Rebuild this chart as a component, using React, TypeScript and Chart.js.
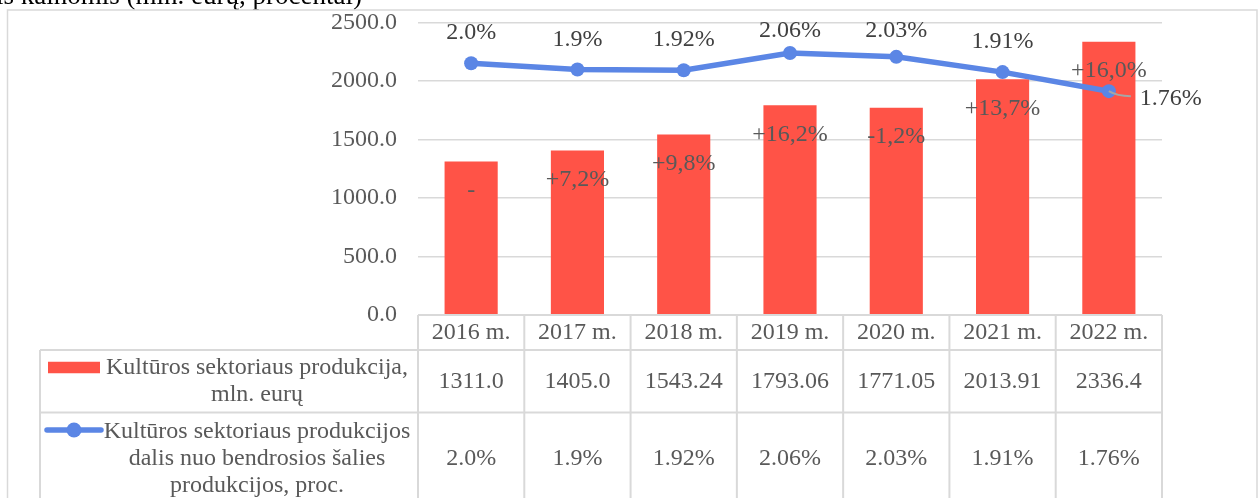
import React, { useEffect, useRef } from "react";
import { Chart, registerables } from "chart.js";

Chart.register(...registerables);

// ---- data ----
const categories = ["2016 m.", "2017 m.", "2018 m.", "2019 m.", "2020 m.", "2021 m.", "2022 m."];
const productionValues = [1311.0, 1405.0, 1543.24, 1793.06, 1771.05, 2013.91, 2336.4];
const productionTableLabels = ["1311.0", "1405.0", "1543.24", "1793.06", "1771.05", "2013.91", "2336.4"];
const growthLabels = ["-", "+7,2%", "+9,8%", "+16,2%", "-1,2%", "+13,7%", "+16,0%"];
const shareValues = [1.98, 1.93, 1.925, 2.06, 2.03, 1.91, 1.76];
const shareLabels = ["2.0%", "1.9%", "1.92%", "2.06%", "2.03%", "1.91%", "1.76%"];
const yAxisMin = 0;
const yAxisMax = 2500;
const yAxisStep = 500;
const shareAxisMax = 2.3;
const productionName = ["Kultūros sektoriaus produkcija,", "mln. eurų"];
const shareName = ["Kultūros sektoriaus produkcijos", "dalis nuo bendrosios šalies", "produkcijos, proc."];
const titleText = "palyginamosiomis kainomis (mln. eurų, procentai)";

// ---- styles ----
const FONT = "'Liberation Serif', 'Times New Roman', serif";
const FS = 24;
const BAR_COLOR = "#FF5347";
const LINE_COLOR = "#5B86E5";
const GRID = "#D9D9D9";
const TEXT = "#595959";
const DARK = "#404040";

const W = 1259;
const H = 498;

const decorPlugin = {
  id: "decor",
  beforeDraw(chart: any) {
    const ctx = chart.ctx;
    ctx.save();
    ctx.fillStyle = "#ffffff";
    ctx.fillRect(0, 0, chart.width, chart.height);
    ctx.fillStyle = "#000000";
    ctx.font = `27px ${FONT}`;
    ctx.textAlign = "right";
    ctx.textBaseline = "alphabetic";
    ctx.fillText(titleText, 362, 4);
    ctx.strokeStyle = GRID;
    ctx.lineWidth = 1.5;
    ctx.strokeRect(7.5, 10, 1249.5, 600);
    ctx.restore();
  },
  afterDatasetsDraw(chart: any) {
    const ctx = chart.ctx;
    const area = chart.chartArea;
    ctx.save();
    ctx.font = `${FS}px ${FONT}`;
    ctx.textBaseline = "middle";
    // bar labels
    const barMeta = chart.getDatasetMeta(1);
    ctx.fillStyle = TEXT;
    ctx.textAlign = "center";
    barMeta.data.forEach((el: any, i: number) => {
      ctx.fillText(growthLabels[i], el.x, el.y + 29);
    });
    // line labels
    const lineMeta = chart.getDatasetMeta(0);
    ctx.fillStyle = DARK;
    const n = lineMeta.data.length;
    lineMeta.data.forEach((el: any, i: number) => {
      if (i === n - 1) {
        ctx.strokeStyle = "#A6A6A6";
        ctx.lineWidth = 2;
        ctx.beginPath();
        ctx.moveTo(el.x, el.y);
        ctx.quadraticCurveTo(el.x + 8, el.y + 5, el.x + 22, el.y + 5);
        ctx.stroke();
        ctx.textAlign = "left";
        ctx.fillText(shareLabels[i], el.x + 31, el.y + 8);
      } else {
        ctx.textAlign = "center";
        const y = Math.max(el.y - 30, area.top + 8);
        ctx.fillText(shareLabels[i], el.x, y);
      }
    });
    ctx.restore();
  },
  afterDraw(chart: any) {
    const ctx = chart.ctx;
    const area = chart.chartArea;
    const xs = chart.scales.x;
    const n = categories.length;
    const colW = (area.right - area.left) / n;
    const top = area.bottom;
    const r1 = top + 35;
    const r2 = r1 + 62.5;
    const bottom = chart.height + 30;
    const tableLeft = 40;
    ctx.save();
    ctx.strokeStyle = GRID;
    ctx.lineWidth = 2;
    const line = (x1: number, y1: number, x2: number, y2: number) => {
      ctx.beginPath();
      ctx.moveTo(x1, y1);
      ctx.lineTo(x2, y2);
      ctx.stroke();
    };
    line(area.left, top, area.right, top);
    line(tableLeft, r1, area.right, r1);
    line(tableLeft, r2, area.right, r2);
    for (let i = 0; i <= n; i++) {
      const x = area.left + i * colW;
      line(x, top, x, bottom);
    }
    line(tableLeft, r1, tableLeft, bottom);

    ctx.font = `${FS}px ${FONT}`;
    ctx.fillStyle = TEXT;
    ctx.textAlign = "center";
    ctx.textBaseline = "middle";
    const row2c = (r1 + r2) / 2;
    const row3c = r2 + 46.5;
    for (let i = 0; i < n; i++) {
      const x = xs.getPixelForValue(i);
      ctx.fillText(categories[i], x, (top + r1) / 2);
      ctx.fillText(productionTableLabels[i], x, row2c);
      ctx.fillText(shareLabels[i], x, row3c);
    }
    // legend cells
    const lh = 27;
    const textX = 257;
    productionName.forEach((t, k) => {
      ctx.fillText(t, textX, row2c - (lh * (productionName.length - 1)) / 2 + k * lh);
    });
    shareName.forEach((t, k) => {
      ctx.fillText(t, textX, row3c - (lh * (shareName.length - 1)) / 2 + k * lh);
    });
    // keys
    const k1y = row2c - (lh * (productionName.length - 1)) / 2;
    ctx.fillStyle = BAR_COLOR;
    ctx.fillRect(48, k1y - 6, 52, 11.5);
    const k2y = row3c - (lh * (shareName.length - 1)) / 2 - 2;
    ctx.strokeStyle = LINE_COLOR;
    ctx.lineWidth = 5.5;
    ctx.lineCap = "round";
    line(47, k2y, 101, k2y);
    ctx.fillStyle = LINE_COLOR;
    ctx.beginPath();
    ctx.arc(74, k2y, 7.5, 0, Math.PI * 2);
    ctx.fill();
    ctx.restore();
  },
};

export default function App() {
  const ref = useRef<HTMLCanvasElement | null>(null);
  useEffect(() => {
    document.body.style.margin = "0";
    const canvas = ref.current;
    if (!canvas) return;
    const chart = new Chart(canvas, {
      type: "bar",
      data: {
        labels: categories,
        datasets: [
          {
            type: "line",
            label: shareName.join(" "),
            data: shareValues,
            yAxisID: "y1",
            borderColor: LINE_COLOR,
            backgroundColor: LINE_COLOR,
            borderWidth: 5.5,
            pointRadius: 7,
            pointBackgroundColor: LINE_COLOR,
            pointBorderWidth: 0,
            tension: 0,
            order: 0,
          } as any,
          {
            type: "bar",
            label: productionName.join(" "),
            data: productionValues,
            yAxisID: "y",
            backgroundColor: BAR_COLOR,
            borderWidth: 0,
            barPercentage: 0.5,
            categoryPercentage: 1.0,
            order: 1,
          } as any,
        ],
      },
      options: {
        responsive: false,
        animation: false,
        devicePixelRatio: 1,
        layout: { autoPadding: false, padding: { left: 0, right: 97, top: 22.5, bottom: 183 } },
        plugins: {
          legend: { display: false },
          tooltip: { enabled: false },
          title: { display: false },
        },
        scales: {
          x: {
            display: false,
            grid: { display: false },
          },
          y: {
            position: "left",
            min: yAxisMin,
            max: yAxisMax,
            border: { display: false },
            grid: { color: GRID, lineWidth: 1.5, drawTicks: false },
            ticks: {
              stepSize: yAxisStep,
              padding: 21,
              color: TEXT,
              font: { family: FONT, size: FS },
              callback: (v: any) => Number(v).toFixed(1),
            },
            afterFit: (scale: any) => {
              scale.width = 418;
              scale.paddingTop = 0;
              scale.paddingBottom = 0;
            },
          },
          y1: {
            display: false,
            min: 0,
            max: shareAxisMax,
          },
        },
      } as any,
      plugins: [decorPlugin],
    });
    return () => chart.destroy();
  }, []);
  return (
    <div style={{ position: "fixed", left: 0, top: 0, width: W, height: H }}>
      <canvas ref={ref} width={W} height={H} style={{ width: W, height: H, display: "block" }} />
    </div>
  );
}
